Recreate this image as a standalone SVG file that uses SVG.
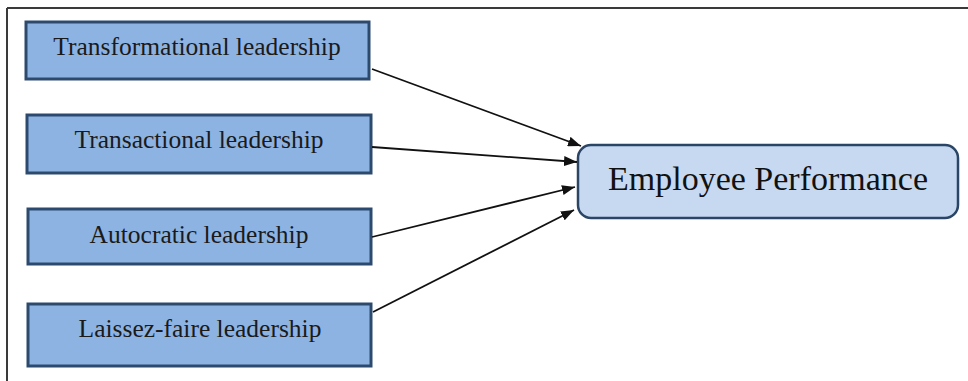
<svg xmlns="http://www.w3.org/2000/svg" width="968" height="381" viewBox="0 0 968 381">
<style>
.src rect{fill:#8db3e2;stroke:#2c4a6e;stroke-width:3}
.src text{font-family:"Liberation Serif","Times New Roman","DejaVu Serif",serif;font-size:25.5px;fill:#1a1a1a;text-anchor:middle}
#employee rect{fill:#c6d9f0;stroke:#2a4565;stroke-width:2.5}
#employee text{font-family:"Liberation Serif","Times New Roman","DejaVu Serif",serif;font-size:34px;fill:#111;text-anchor:middle}
.conn line{stroke:#111;stroke-width:1.8}
</style>
<defs>
<marker id="ah" viewBox="0 0 13 10" refX="13" refY="5" markerWidth="13" markerHeight="10" markerUnits="userSpaceOnUse" orient="auto">
<path d="M0,0 L13,5 L0,10 z" fill="#111"/>
</marker>
</defs>
<rect width="968" height="381" fill="#fff"/>
<g id="frame" fill="none" stroke="#3a3a3a" stroke-width="2">
<line x1="7" y1="8" x2="968" y2="8"/>
<line x1="7" y1="8" x2="7" y2="381"/>
</g>
<g id="transformational" class="src">
<rect x="26" y="22" width="343" height="57"/>
<text x="197" y="55">Transformational leadership</text>
</g>
<g id="transactional" class="src">
<rect x="27" y="115" width="344" height="58"/>
<text x="199" y="148">Transactional leadership</text>
</g>
<g id="autocratic" class="src">
<rect x="28" y="209" width="343" height="55"/>
<text x="199" y="243">Autocratic leadership</text>
</g>
<g id="laissezfaire" class="src">
<rect x="28" y="304" width="343" height="62"/>
<text x="200" y="337">Laissez-faire leadership</text>
</g>
<g id="employee">
<rect x="578" y="145" width="380" height="73" rx="13" ry="13"/>
<text x="768" y="190">Employee Performance</text>
</g>
<g class="conn">
<line x1="372" y1="69" x2="581" y2="146" marker-end="url(#ah)"/>
<line x1="372" y1="147" x2="577" y2="162" marker-end="url(#ah)"/>
<line x1="372" y1="237" x2="575" y2="187" marker-end="url(#ah)"/>
<line x1="373" y1="312" x2="574" y2="210" marker-end="url(#ah)"/>
</g>
</svg>
